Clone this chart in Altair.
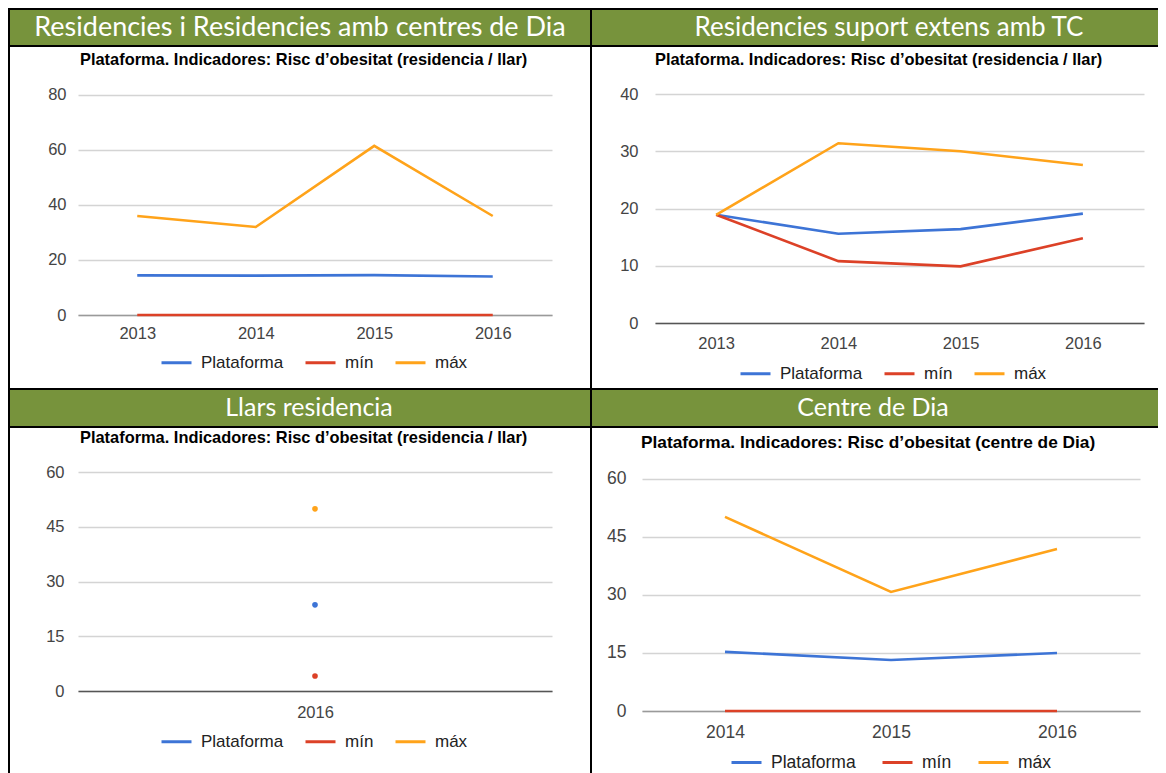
import altair as alt
import pandas as pd

SERIES = ["Plataforma", "mín", "máx"]
COLORS = ["#3d74d6", "#dc4127", "#ffa31a"]
GREEN = "#77933C"
FONT = "Liberation Sans"

# ---- data ----
years_1 = ["2013", "2014", "2015", "2016"]
plataforma_1 = [14.4, 14.3, 14.5, 14.0]
min_1 = [0, 0, 0, 0]
max_1 = [36.0, 32.0, 61.5, 36.0]

years_2 = ["2013", "2014", "2015", "2016"]
plataforma_2 = [18.9, 15.6, 16.4, 19.1]
min_2 = [18.9, 10.8, 9.9, 14.8]
max_2 = [18.9, 31.4, 30.0, 27.6]

years_3 = ["2016"]
plataforma_3 = [23.6]
min_3 = [4.1]
max_3 = [49.9]

years_4 = ["2014", "2015", "2016"]
plataforma_4 = [15.3, 13.2, 15.0]
min_4 = [0, 0, 0]
max_4 = [50.2, 30.8, 41.9]

headers = ["Residencies i Residencies amb centres de Dia", "Residencies suport extens amb TC",
           "Llars residencia", "Centre de Dia"]
titles = ["Plataforma. Indicadores: Risc d\u2019obesitat (residencia / llar)",
          "Plataforma. Indicadores: Risc d\u2019obesitat (residencia / llar)",
          "Plataforma. Indicadores: Risc d\u2019obesitat (residencia / llar)",
          "Plataforma. Indicadores: Risc d\u2019obesitat (centre de Dia)"]


def series_frame(years, plat, mn, mx):
    rows = []
    for name, vals in zip(SERIES, [plat, mn, mx]):
        for yr, v in zip(years, vals):
            rows.append({"any": yr, "serie": name, "valor": v})
    return pd.DataFrame(rows)


ONE = pd.DataFrame({"k": [0]})


def box(x0, x1, y0, y1, col):
    return alt.Chart(ONE).mark_rect(fill=col, strokeWidth=0).encode(
        x=alt.value(x0), x2=alt.value(x1), y=alt.value(y0), y2=alt.value(y1))


def label(txt, x, y, **kw):
    return alt.Chart(ONE).mark_text(**kw).encode(x=alt.value(x), y=alt.value(y), text=alt.value(txt))


def panel(c):
    ox, oy = c["origin"]
    layers = [box(x0 - ox, x1 - ox, y0 - oy, y1 - oy, col) for (x0, x1, y0, y1, col) in c["boxes"]]
    hx, hy = c["head_pos"]
    layers.append(label(c["header"], hx - ox, hy - oy, font="Lato", fontSize=c["head_fs"],
                        color="white", align="center", baseline="middle"))
    tx, ty = c["title_pos"]
    layers.append(label(c["title"], tx - ox, ty - oy, font=FONT, fontSize=c["tfs"], fontWeight="bold",
                        color="#000", align="left", baseline="middle"))
    df = series_frame(c["years"], *c["vals"])
    fs = c["fs"]
    lx, ly = c["legend_pos"]
    x = alt.X("any:O", sort=c["years"],
              scale=alt.Scale(type="point", domain=c["years"], padding=0.5),
              axis=alt.Axis(title=None, labelAngle=0, ticks=False, grid=False, domain=True,
                            domainColor=c["base"], domainWidth=1.3, labelFont=FONT,
                            labelFontSize=fs, labelColor="#444", labelPadding=c["xpad"]))
    y = alt.Y("valor:Q", scale=alt.Scale(domain=[0, c["ymax"]], nice=False),
              axis=alt.Axis(title=None, values=c["yticks"], ticks=False, domain=False, grid=True,
                            gridColor="#d4d4d4", gridWidth=1.3, labelFont=FONT, labelFontSize=fs,
                            labelColor="#444", labelPadding=c["ypad"]))
    color = alt.Color("serie:N", sort=SERIES, scale=alt.Scale(domain=SERIES, range=COLORS),
                      legend=alt.Legend(orient="none", legendX=lx - ox, legendY=ly - oy,
                                        direction="horizontal", title=None, symbolType="stroke",
                                        symbolSize=900, symbolStrokeWidth=3, labelFont=FONT,
                                        labelFontSize=c["lfs"], labelColor="#222", labelOffset=8,
                                        columnPadding=c["cpad"], padding=0))
    layers.append(alt.Chart(df).mark_line(strokeWidth=2.6).encode(x=x, y=y, color=color))
    if c.get("dots"):
        layers.append(alt.Chart(df).mark_circle(size=32, opacity=1).encode(x=x, y=y, color=color))
    return alt.layer(*layers).properties(width=c["W"], height=c["H"])


K = "#000000"
R = 1158  # right edge of the drawing (page coords)
# Plot origins of the two panels of a row share one y, so the y domain top is set
# a little above the top tick where the reference's top gridline sits lower.
p1 = panel(dict(origin=(78, 94), W=474, H=221, ymax=80.36, yticks=[0, 20, 40, 60, 80],
                years=years_1, vals=(plataforma_1, min_1, max_1), header=headers[0], title=titles[0],
                head_fs=27, head_pos=(300, 27.5), title_pos=(80, 60), fs=16.5, lfs=17, tfs=16.4,
                xpad=10, ypad=12, base="#9a9a9a", legend_pos=(160, 346), cpad=15,
                boxes=[(8, 592, 8, 10, K), (8, 10, 8, 390, K), (590, 592, 8, 390, K),
                       (8, 592, 388, 390, K), (10, 590, 10, 45, GREEN), (8, 592, 45, 47, K)]))
p2 = panel(dict(origin=(655, 94), W=489, H=229, ymax=40, yticks=[0, 10, 20, 30, 40],
                years=years_2, vals=(plataforma_2, min_2, max_2), header=headers[1], title=titles[1],
                head_fs=26, head_pos=(889, 27.5), title_pos=(655, 60), fs=16.5, lfs=17, tfs=16.4,
                xpad=12, ypad=17, base="#555555", legend_pos=(739, 357), cpad=15,
                boxes=[(592, R, 8, 10, K), (592, R, 10, 45, GREEN), (592, R, 45, 47, K),
                       (592, R, 388, 390, K)]))
p3 = panel(dict(origin=(78, 472), W=474, H=219, ymax=60, yticks=[0, 15, 30, 45, 60],
                years=years_3, vals=(plataforma_3, min_3, max_3), header=headers[2], title=titles[2],
                head_fs=25, head_pos=(309, 408), title_pos=(80, 438), fs=16.5, lfs=17, tfs=16.4,
                xpad=13, ypad=14, base="#555555", legend_pos=(160, 725), cpad=15, dots=True,
                boxes=[(8, 10, 390, 775, K), (590, 592, 390, 775, K), (10, 590, 390, 426, GREEN),
                       (8, 592, 426, 428, K)]))
p4 = panel(dict(origin=(642, 472), W=498, H=239, ymax=61.81, yticks=[0, 15, 30, 45, 60],
                years=years_4, vals=(plataforma_4, min_4, max_4), header=headers[3], title=titles[3],
                head_fs=25, head_pos=(873, 408), title_pos=(641, 443), fs=17.5, lfs=17.5, tfs=17.3,
                xpad=12, ypad=16, base="#9a9a9a", legend_pos=(730, 746), cpad=20,
                boxes=[(592, R, 390, 426, GREEN), (592, R, 426, 428, K)]))


def indep(ch):
    return ch.resolve_scale(color="independent", x="independent", y="independent").resolve_legend(
        color="independent")


row1 = indep(alt.hconcat(p1, p2, spacing=0))
row2 = indep(alt.hconcat(p3, p4, spacing=0))
chart = indep(alt.vconcat(row1, row2, spacing=0)).properties(
    padding=0, background="white").configure_view(strokeWidth=0)

chart.save("out.html", embed_options={"renderer": "svg", "actions": False})
